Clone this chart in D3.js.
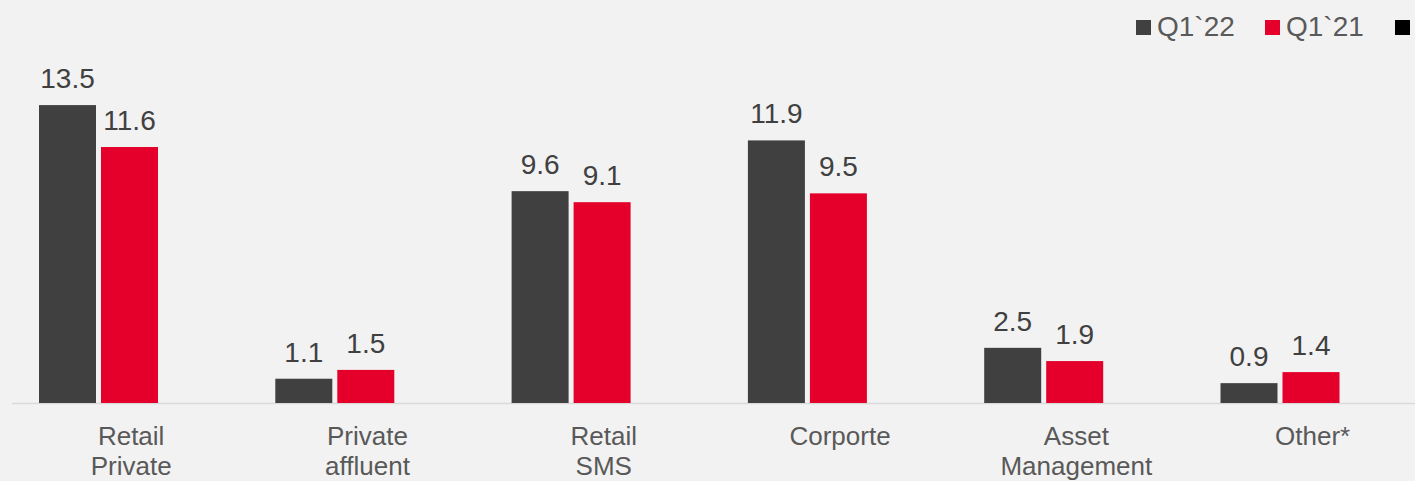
<!DOCTYPE html>
<html>
<head>
<meta charset="utf-8">
<script src="https://cdn.jsdelivr.net/npm/d3@7"></script>
<style>
  html, body { margin: 0; padding: 0; background: #f2f2f2; }
  svg { display: block; }
  text { font-family: "Liberation Sans", Arial, sans-serif; }
</style>
</head>
<body>
<svg id="chart" width="1415" height="481"></svg>
<script>
// Segment names (two-line labels)
const categories = [
  ["Retail", "Private"],
  ["Private", "affluent"],
  ["Retail", "SMS"],
  ["Corporte"],
  ["Asset", "Management"],
  ["Other*"]
];
const seriesNames = ["Q1`22", "Q1`21", ""];
const seriesColors = ["#404040", "#e4002b", "#000000"];
const valuesQ122 = [13.5, 1.1, 9.6, 11.9, 2.5, 0.9];
const valuesQ121 = [11.6, 1.5, 9.1, 9.5, 1.9, 1.4];
const valuesExtra = [null, null, null, null, null, null];

const seriesValues = [valuesQ122, valuesQ121, valuesExtra];

const svg = d3.select("#chart");
const W = 1415, H = 481;
const baseY = 403;

svg.append("rect").attr("width", W).attr("height", H).attr("fill", "#f2f2f2");

const catKeys = categories.map(c => c.join(" "));
const x0 = d3.scaleBand().domain(catKeys).range([13, 13 + 6 * 236.3]).padding(0);
const x1 = d3.scaleBand().domain(d3.range(seriesNames.length))
  .range([26, 26 + 62 * (3 - 5 / 62)]).paddingInner(5 / 62).paddingOuter(0);
const y = d3.scaleLinear().domain([0, 15]).range([baseY, baseY - 331]);

// Baseline
svg.append("line")
  .attr("x1", 12).attr("x2", W)
  .attr("y1", baseY + 0.5).attr("y2", baseY + 0.5)
  .attr("stroke", "#d9d9d9").attr("stroke-width", 1.5);

// Bars and value labels
const groups = svg.selectAll("g.cat").data(catKeys).enter().append("g")
  .attr("class", "cat")
  .attr("transform", d => `translate(${x0(d)},0)`);

seriesValues.forEach((vals, si) => {
  groups.each(function(d, ci) {
    const v = vals[ci];
    if (v == null) return;
    const g = d3.select(this);
    g.append("rect")
      .attr("x", x1(si))
      .attr("width", x1.bandwidth())
      .attr("y", y(v))
      .attr("height", baseY - y(v))
      .attr("fill", seriesColors[si]);
    g.append("text")
      .attr("x", x1(si) + x1.bandwidth() / 2)
      .attr("y", y(v) - 17)
      .attr("text-anchor", "middle")
      .attr("font-size", 28)
      .attr("fill", "#404040")
      .text(v.toFixed(1));
  });
});

// Category labels
svg.selectAll("text.cat").data(categories).enter().append("text")
  .attr("class", "cat")
  .attr("text-anchor", "middle")
  .attr("font-size", 26)
  .attr("fill", "#595959")
  .each(function(lines, i) {
    const cx = x0(catKeys[i]) + x0.bandwidth() / 2;
    d3.select(this).selectAll("tspan").data(lines).enter().append("tspan")
      .attr("x", cx)
      .attr("y", (d, j) => 445 + j * 30)
      .text(d => d);
  });

// Legend
const legendX = [1136, 1265, 1395];
const legend = svg.selectAll("g.legend").data(seriesNames).enter().append("g")
  .attr("class", "legend")
  .attr("transform", (d, i) => `translate(${legendX[i]},20)`);
legend.append("rect")
  .attr("width", 15).attr("height", 15)
  .attr("fill", (d, i) => seriesColors[i]);
legend.append("text")
  .attr("x", 21).attr("y", 15.5)
  .attr("font-size", 28)
  .attr("fill", "#595959")
  .text(d => d);
</script>
</body>
</html>
